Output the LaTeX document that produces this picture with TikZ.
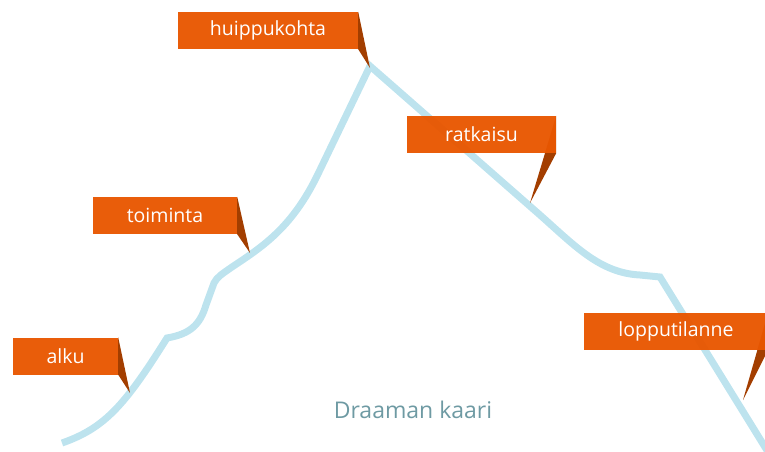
\documentclass[tikz,border=0pt]{standalone}
\usepackage{fontspec}
\setmainfont{Open Sans}
\definecolor{kaari}{HTML}{BDE3EE}
\definecolor{lappu}{HTML}{E85600}
\definecolor{hanta}{HTML}{A33E00}
\definecolor{otsikko}{HTML}{6E9AA3}
\pgfdeclarelayer{tausta}
\pgfsetlayers{tausta,main}
\begin{document}
\begin{tikzpicture}[x=1pt,y=-1pt, line join=round, line cap=round,
	lappu/.style={fill=lappu,fill opacity=0.96,text opacity=1,text=white,inner sep=0pt,
		minimum height=37pt,font=\fontsize{19.5}{20}\selectfont},
	hanta/.style={fill=hanta}]
		\useasboundingbox (0,0) rectangle (765,452);
		\node[lappu,minimum width=180pt] (huippu) at (268,30.5) {huippukohta};
		\node[lappu,minimum width=149pt] (ratkaisu) at (481.5,134.5) {ratkaisu};
		\node[lappu,minimum width=144pt] (toiminta) at (165,215.5) {toiminta};
		\node[lappu,minimum width=105pt] (alku) at (65.5,356) {alku};
		\node[lappu,minimum width=184pt] (loppu) at (676,331) {lopputilanne};
		\node[text=otsikko,font=\fontsize{23}{24}\selectfont] (otsikko) at (413,410) {Draaman kaari};
		\coordinate (huippu-k) at (370,68);
		\coordinate (ratkaisu-k) at (530,203);
		\coordinate (toiminta-k) at (250,253);
		\coordinate (alku-k) at (130,393);
		\coordinate (loppu-k) at (743,400);
		\begin{pgfonlayer}{tausta}
		\draw[kaari,line width=7pt] (62,443) .. controls (105,428) and (125,405) .. (167,338)
			.. controls (190,334) and (200,325) .. (206,305) -- (214,283)
			.. controls (217,277) and (222,274) .. (232,267)
			.. controls (262,247) and (292,228) .. (318,174) -- (370,66)
			-- (540,215) .. controls (575,246) and (600,273) .. (640,275)
			-- (660,277) -- (768,452);
		\foreach \n in {huippu,ratkaisu,toiminta,alku,loppu}
			\fill[hanta] (\n.north east) -- (\n-k) -- (\n.south east) -- cycle;
		\end{pgfonlayer}
\end{tikzpicture}
\end{document}
